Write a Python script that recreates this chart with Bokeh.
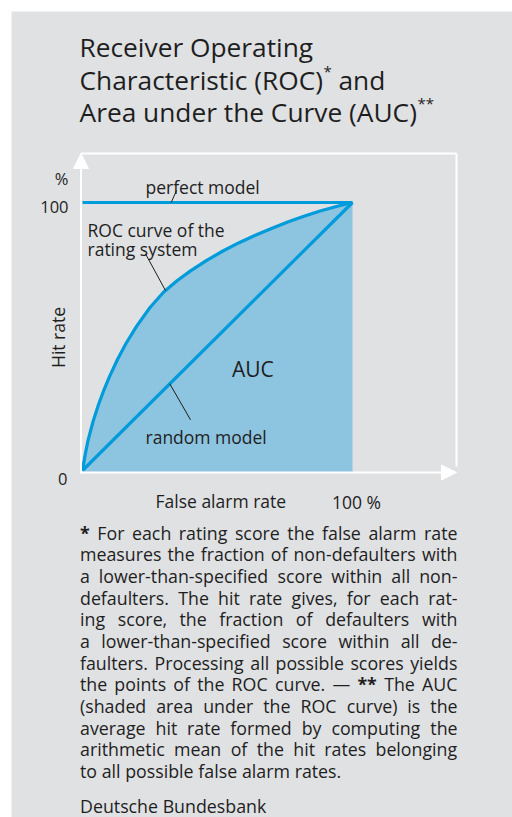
import numpy as np
from bokeh.plotting import figure
from bokeh.models import Range1d, ColumnDataSource, Arrow, NormalHead
from bokeh.core.properties import value
from bokeh.embed import file_html
from bokeh.resources import INLINE

# ---------------- data ----------------
roc_x = [0, 1, 2, 4, 6, 8, 10, 13, 16, 20, 25, 30, 35, 40, 46, 52, 58, 64, 70, 76, 82, 88, 94, 100]
roc_y = [0, 6, 11, 18.6, 24.8, 30.2, 35, 41.5, 47.2, 53.8, 60.8, 66.5, 70.8, 74.5, 78.4, 81.9,
         85.0, 87.8, 90.3, 92.7, 94.9, 96.8, 98.5, 100]
random_x = [0, 100]
random_y = [0, 100]
perfect_x = [0, 100]
perfect_y = [100, 100]
y_tick_labels = ["0", "100", "%"]
x_axis_label = "False alarm rate"
x_end_label = "100 %"
y_axis_label = "Hit rate"

title_lines = ["Receiver Operating", "Characteristic (ROC)", "Area under the Curve (AUC)"]
foot_lines = [
    "* For each rating score the false alarm rate",
    "measures the fraction of non-defaulters with",
    "a lower-than-specified score within all non-",
    "defaulters. The hit rate gives, for each rat-",
    "ing score, the fraction of defaulters with",
    "a lower-than-specified score within all de-",
    "faulters. Processing all possible scores yields",
    "the points of the ROC curve. \u2014 ** The AUC",
    "(shaded area under the ROC curve) is the",
    "average hit rate formed by computing the",
    "arithmetic mean of the hit rates belonging",
    "to all possible false alarm rates.",
]
source_label = "Deutsche Bundesbank"

# ---------------- styling ----------------
FONT = "Open Sans"
BG = "#e0e1e3"
FILL = "#8dc4e0"
LINE = "#009bdb"
TXT = "#1e1e1e"

# pixel geometry of the canvas (for placing texts)
X0PX, XSCALE = 82.0, 2.7     # x=0 at px 82, 2.7 px per unit
Y0PX, YSCALE = 470.0, 2.68   # y=0 at px 470, 2.68 px per unit
def X(px):
    return (px - X0PX) / XSCALE
def Y(py):
    return (Y0PX - py) / YSCALE

# Open Sans advance widths (units per 2048)
OW = {' ': 532, 'a': 1139, 'b': 1255, 'c': 975, 'd': 1255, 'e': 1149, 'f': 694, 'g': 1122,
      'h': 1257, 'i': 518, 'j': 518, 'k': 1075, 'l': 518, 'm': 1905, 'n': 1257, 'o': 1237,
      'p': 1255, 'q': 1255, 'r': 836, 's': 977, 't': 723, 'u': 1257, 'v': 1026, 'w': 1593,
      'x': 1073, 'y': 1028, 'z': 977, 'A': 1296, 'B': 1327, 'C': 1292, 'D': 1493, 'E': 1139,
      'F': 1057, 'H': 1511, 'O': 1599, 'P': 1249, 'R': 1280, 'T': 1122, 'U': 1503,
      '.': 545, ',': 502, '-': 659, '(': 578, ')': 578, '*': 1128, '\u2014': 2048, '%': 1679}
def tw(s, size):
    return sum(OW.get(c, 1150) for c in s) / 2048.0 * size

W, H = 512, 817
p = figure(width=W, height=H, output_backend="svg", toolbar_location=None,
           x_range=Range1d(X(11), X(512)), y_range=Range1d(Y(817), Y(11)),
           x_axis_type=None, y_axis_type=None,
           min_border_left=11, min_border_top=11, min_border_right=0, min_border_bottom=0,
           background_fill_color=BG, border_fill_color="white", outline_line_color=None)
p.grid.visible = False

# shaded AUC
bottom = Y(472)
p.varea(x=roc_x, y1=[bottom] * len(roc_x), y2=roc_y, fill_color=FILL)

# white frame and arrows
p.line([X(80.5), X(456)], [Y(153), Y(153)], line_color="white", line_width=2)
p.line([X(456), X(456)], [Y(153), Y(466)], line_color="white", line_width=2)
p.add_layout(Arrow(end=NormalHead(size=15, fill_color="white", line_color="white"),
                   x_start=X(80.5), y_start=Y(473), x_end=X(80.5), y_end=Y(153),
                   line_color="white", line_width=2))
p.add_layout(Arrow(end=NormalHead(size=15, fill_color="white", line_color="white"),
                   x_start=X(79.5), y_start=Y(472), x_end=X(456), y_end=Y(472),
                   line_color="white", line_width=2))

# lines
p.line(roc_x, roc_y, line_color=LINE, line_width=3.2, line_join="round")
p.line(random_x, random_y, line_color=LINE, line_width=3.2)
p.line(perfect_x, perfect_y, line_color=LINE, line_width=3.2)

# leader lines (end on the data)
lx_p = X(170.7)
p.line([X(176), lx_p], [Y(190), perfect_y[0]], line_color=TXT, line_width=1)
lx_r = X(165)
p.line([X(145), lx_r], [Y(253.3), float(np.interp(lx_r, roc_x, roc_y))], line_color=TXT, line_width=1)
lx_d = X(169.3)
p.line([X(190), lx_d], [Y(419.3), float(np.interp(lx_d, random_x, random_y))], line_color=TXT, line_width=1)

def txt(x, y, s, size, align="left", baseline="alphabetic", angle=0, style="normal"):
    p.text(x=[x], y=[y], text=[s], text_font=value(FONT), text_font_size=f"{size}px",
           text_align=align, text_baseline=baseline, angle=angle, text_color=TXT,
           text_font_style=style)

# chart labels
LS_ = 17.5
txt(X(145), Y(186.5), "perfect model", LS_)
txt(X(87), Y(229.3), "ROC curve of the", LS_)
txt(X(87), Y(248.5), "rating system", LS_)
txt(X(231.5), Y(368.5), "AUC", 21)
txt(X(145), Y(436), "random model", LS_)
txt(X(155), Y(500.5), x_axis_label, LS_)
txt(X(331.5), Y(501.5), x_end_label, LS_)
txt(X(68), Y(178), y_tick_labels[2], 16.5, align="right")
txt(X(68), Y(206.5), y_tick_labels[1], 16.5, align="right")
txt(X(67), Y(478), y_tick_labels[0], 16.5, align="right")
txt(X(57), Y(337), y_axis_label, LS_, align="center", baseline="middle", angle=np.pi / 2)

# title
TS = 26.3
tl = 79
tb = [46.5, 79, 111.5]
txt(X(tl), Y(tb[0]), title_lines[0], TS)
txt(X(tl), Y(tb[1]), title_lines[1], TS)
w1 = tw(title_lines[1], TS)
txt(X(tl + w1 + 1), Y(tb[1] - 9), "*", 15)
txt(X(tl + w1 + 1 + tw("*", 15) + tw(" ", TS)), Y(tb[1]), "and", TS)
txt(X(tl), Y(tb[2]), title_lines[2], TS)
w2 = tw(title_lines[2], TS)
txt(X(tl + w2 + 1), Y(tb[2] - 9), "**", 15)

# footnote, justified
FS = 17.8
L, R = 79.5, 457.0
base0, LSP = 532.0, 21.67
fx, fy, ft, fs = [], [], [], []
for i, line in enumerate(foot_lines):
    words = line.split(" ")
    widths = [tw(w, FS) for w in words]
    if i < len(foot_lines) - 1:
        gap = (R - L - sum(widths)) / (len(words) - 1)
    else:
        gap = tw(" ", FS)
    xx = L
    for w, wd in zip(words, widths):
        fx.append(X(xx)); fy.append(Y(base0 + i * LSP)); ft.append(w)
        fs.append("bold" if set(w) == {"*"} else "normal")
        xx += wd + gap
src = ColumnDataSource(dict(x=fx, y=fy, text=ft, style=fs))
p.text(x="x", y="y", text="text", source=src, text_font=value(FONT),
       text_font_size=f"{FS}px", text_font_style="style", text_align="left",
       text_baseline="alphabetic", text_color=TXT)
txt(X(L), Y(805), source_label, FS)

open("out.html", "w").write(file_html(p, INLINE))
